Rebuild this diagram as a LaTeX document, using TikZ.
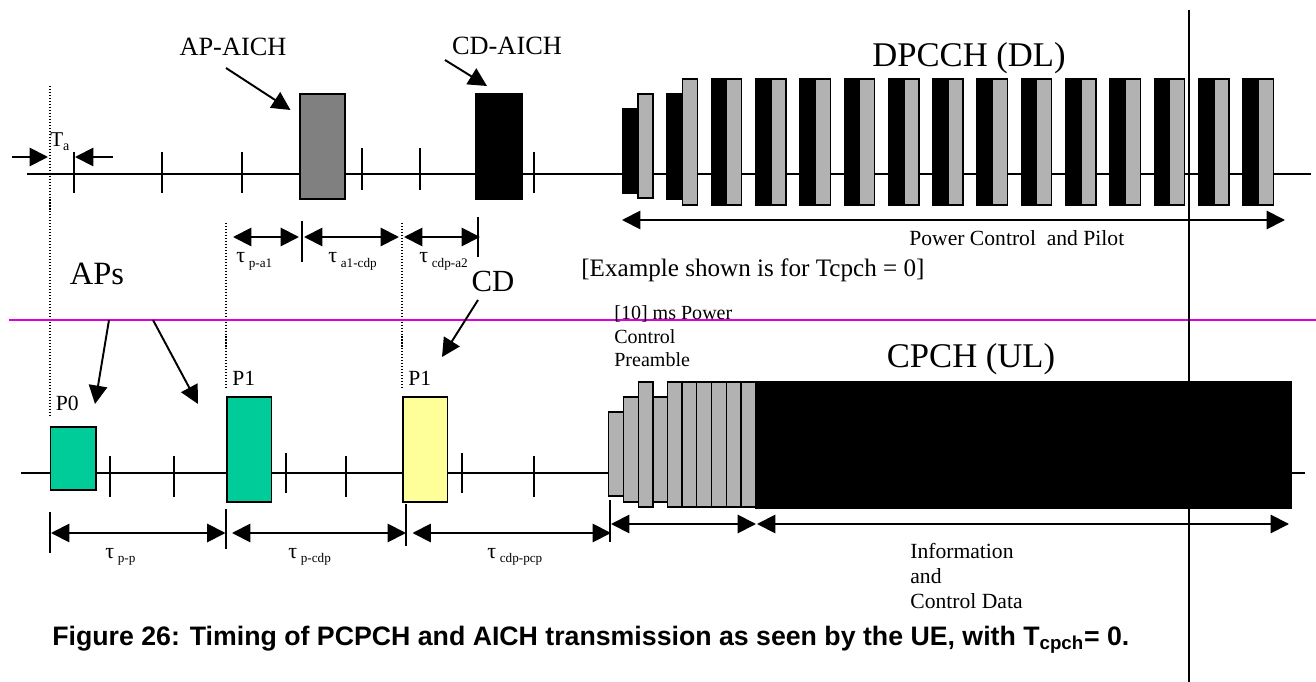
\documentclass[tikz,border=0pt]{standalone}
\usepackage{fontspec}
\setmainfont{Liberation Serif}
\newfontfamily\capfont{Liberation Sans}
\usetikzlibrary{arrows.meta}

\definecolor{apgreen}{RGB}{0,204,153}
\definecolor{cdyellow}{RGB}{255,255,153}
\definecolor{aichgray}{RGB}{128,128,128}
\definecolor{slotgray}{RGB}{178,178,178}
\definecolor{cutline}{RGB}{221,0,221}

\newcommand{\tlab}[1]{τ\,\raisebox{-.45ex}{\fontsize{7.5}{8}\selectfont #1}}

\begin{document}
\begin{tikzpicture}[
    x=0.02cm, y=-0.02cm,
    >={Triangle[length=10.5pt,width=10.5pt]},
    axis/.style={line width=1.1pt},
    tickmark/.style={line width=0.9pt},
    guide/.style={line width=0.8pt, dash pattern=on 0.6pt off 1.1pt},
    dim/.style={<->, line width=1.1pt},
    ptr/.style={->, line width=1.1pt},
    slotblk/.style={draw=black, fill=black, line width=0.8pt},
    slotpil/.style={draw=black, fill=slotgray, line width=0.8pt},
    txt/.style={inner sep=0pt, anchor=base west},
    head/.style={inner sep=0pt, anchor=base, font=\fontsize{19.7}{23}\selectfont}
]
\useasboundingbox (0,0) rectangle (1316,682);

% --- Downlink (top) ---
% Time line and slot ticks
\draw[axis] (27,174) -- (1311,174);
\foreach \x/\a/\b in {74/152/193, 162/152/193, 242/152/193, 362/148/190, 420/148/190, 534/152/193}
    \draw[tickmark] (\x,\a) -- (\x,\b);

% AICH bursts
\draw[line width=0.8pt, fill=aichgray] (300,94) rectangle (345,199);
\draw[slotblk] (476,94) rectangle (522,199);

% DPCCH slots (power control + pilot)
\draw[slotblk] (622.7,109) rectangle ++(15.3,84);
\draw[slotpil] (638,94) rectangle ++(15,104);
\draw[slotblk] (667,94) rectangle ++(15.3,105);
\draw[slotpil] (682.3,79) rectangle ++(15,126);
\foreach \k in {2,...,14} {
    \draw[slotblk] ({622.7+44.3*\k},79) rectangle ++(15.3,126);
    \draw[slotpil] ({638+44.3*\k},79) rectangle ++(15,126);
}

% Labels
\node[head] (dpcch) at (969,67) {DPCCH (DL)};
\node[inner sep=0pt, anchor=base, font=\fontsize{15}{18}\selectfont] (apaich) at (233,56) {AP-AICH};
\node[inner sep=0pt, anchor=base, font=\fontsize{15}{18}\selectfont] (cdaich) at (507,55) {CD-AICH};
\node[txt, font=\fontsize{12}{14}\selectfont] (ta) at (50,147) {T\raisebox{-.35ex}{\fontsize{8}{9}\selectfont a}};
\node[txt, font=\fontsize{12.3}{14}\selectfont] (pcp) at (909,246) {Power Control\ \ and Pilot};
\node[txt, font=\fontsize{14.3}{17}\selectfont] (example) at (581,277) {[Example shown is for Tcpch = 0]};
\node[inner sep=0pt, anchor=base, font=\fontsize{18.5}{22}\selectfont] (aps) at (97,285) {APs};
\node[inner sep=0pt, anchor=base, font=\fontsize{17.5}{21}\selectfont] (cd) at (493,292) {CD};

% Pointer arrows
\coordinate (apaich-s) at (226,68);
\coordinate (apaich-e) at (290.5,110);
\coordinate (cdaich-s) at (445,60);
\coordinate (cdaich-e) at (487,86);
\draw[ptr] (apaich-s) -- (apaich-e);
\draw[ptr] (cdaich-s) -- (cdaich-e);

% T_a marks
\coordinate (ta-l0) at (12,157);
\coordinate (ta-l1) at (48,157);
\coordinate (ta-r0) at (113,157);
\coordinate (ta-r1) at (75,157);
\draw[ptr] (ta-l0) -- (ta-l1);
\draw[ptr] (ta-r0) -- (ta-r1);

% Timing intervals (downlink)
\coordinate (pa1-l) at (233,237);
\coordinate (pa1-r) at (299,237);
\coordinate (a1c-l) at (304,237);
\coordinate (a1c-r) at (399,237);
\coordinate (ca2-l) at (404,237);
\coordinate (ca2-r) at (480,237);
\draw[dim] (pa1-l) -- (pa1-r);
\draw[dim] (a1c-l) -- (a1c-r);
\draw[dim] (ca2-l) -- (ca2-r);
\draw[tickmark] (302,221) -- (302,262);
\draw[tickmark] (478,217) -- (478,257);
\node[txt, font=\fontsize{12.5}{14}\selectfont] (t-pa1) at (236,263) {\tlab{p-a1}};
\node[txt, font=\fontsize{12.5}{14}\selectfont] (t-a1c) at (328,263) {\tlab{a1-cdp}};
\node[txt, font=\fontsize{12.5}{14}\selectfont] (t-ca2) at (419,263) {\tlab{cdp-a2}};

% Power control arrow
\coordinate (pc-l) at (622,220);
\coordinate (pc-r) at (1285,220);
\draw[dim] (pc-l) -- (pc-r);

% Guides
\draw[guide] (50,86) -- (50,417);
\draw[guide] (226,223) -- (226,390);
\draw[guide] (402,223) -- (402,390);

% Split line
\draw[cutline, line width=0.7pt] (9,320) -- (1316,320);

% --- Uplink (bottom) ---
\draw[axis] (21,473) -- (1305,473);
\foreach \x/\a/\b in {110/456/497, 174/456/497, 286/453/493, 346/456/497, 462/453/493, 534/456/497}
    \draw[tickmark] (\x,\a) -- (\x,\b);

% Access and collision detection preambles
\draw[line width=0.8pt, fill=apgreen] (50.5,427) rectangle (96,490);
\draw[line width=0.8pt, fill=apgreen] (227,397) rectangle (271.5,502);
\draw[line width=0.8pt, fill=cdyellow] (403,397) rectangle (447.5,502);
\node[txt, font=\fontsize{12.3}{14}\selectfont] (p0) at (55.5,411) {P0};
\node[txt, font=\fontsize{12.3}{14}\selectfont] (p1a) at (232,385) {P1};
\node[txt, font=\fontsize{12.3}{14}\selectfont] (p1b) at (408,385) {P1};

% Power control preamble
\draw[slotpil] (608.3,412) rectangle (623.3,496);
\draw[slotpil] (623.3,397) rectangle (638.3,502);
\draw[slotpil] (638.3,382) rectangle (653,507);
\draw[slotpil] (653,397) rectangle (667.3,502);
\foreach \i in {0,...,5}
    \draw[slotpil] ({667.3+14.73*\i},382) rectangle ++(14.73,125);

% Message part
\draw[slotblk] (755.7,382) rectangle (1291,508);

\node[head] (cpch) at (971,368) {CPCH (UL)};
% multi-line nodes: base is the last line
\node[txt, align=left, font=\fontsize{11.4}{13.6}\selectfont] (pcpre) at (614,367) {[10] ms Power\\Control\\Preamble};
\node[txt, align=left, font=\fontsize{12.3}{14.2}\selectfont] (info) at (910,608) {Information\\and\\Control Data};

% Pointer arrows (uplink)
\coordinate (aps-s1) at (109,320);
\coordinate (aps-e1) at (95,404);
\coordinate (aps-s2) at (153,320);
\coordinate (aps-e2) at (198,404);
\coordinate (cd-s) at (478,300);
\coordinate (cd-e) at (442,357);
\draw[ptr] (aps-s1) -- (aps-e1);
\draw[ptr] (aps-s2) -- (aps-e2);
\draw[ptr] (cd-s) -- (cd-e);

% Timing intervals (uplink)
\draw[tickmark] (50,512) -- (50,553);
\draw[tickmark] (226,509) -- (226,549);
\draw[tickmark] (406,504) -- (406,546);
\draw[tickmark] (610,500) -- (610,542);
\coordinate (pp-l) at (51,533);
\coordinate (pp-r) at (225.5,533);
\coordinate (pcd-l) at (232,533);
\coordinate (pcd-r) at (406,533);
\coordinate (cpc-l) at (412.5,533);
\coordinate (cpc-r) at (611,533);
\draw[dim] (pp-l) -- (pp-r);
\draw[dim] (pcd-l) -- (pcd-r);
\draw[dim] (cpc-l) -- (cpc-r);
\node[txt, font=\fontsize{12.5}{14}\selectfont] (t-pp) at (105,558) {\tlab{p-p}};
\node[txt, font=\fontsize{12.5}{14}\selectfont] (t-pcd) at (288,558) {\tlab{p-cdp}};
\node[txt, font=\fontsize{12.5}{14}\selectfont] (t-cpc) at (487,558) {\tlab{cdp-pcp}};

\coordinate (pre-l) at (611,524);
\coordinate (pre-r) at (756,524);
\coordinate (msg-l) at (757,524);
\coordinate (msg-r) at (1289,524);
\draw[dim] (pre-l) -- (pre-r);
\draw[dim] (msg-l) -- (msg-r);

% Reference line
\draw[line width=1.1pt] (1189,10) -- (1189,682);

% Caption
\node[txt, font=\capfont\bfseries\fontsize{15.2}{18}\selectfont] (caption) at (52,645)
    {Figure 26: Timing of PCPCH and AICH transmission as seen by the UE, with T\textsubscript{cpch}= 0.};

\end{tikzpicture}
\end{document}
